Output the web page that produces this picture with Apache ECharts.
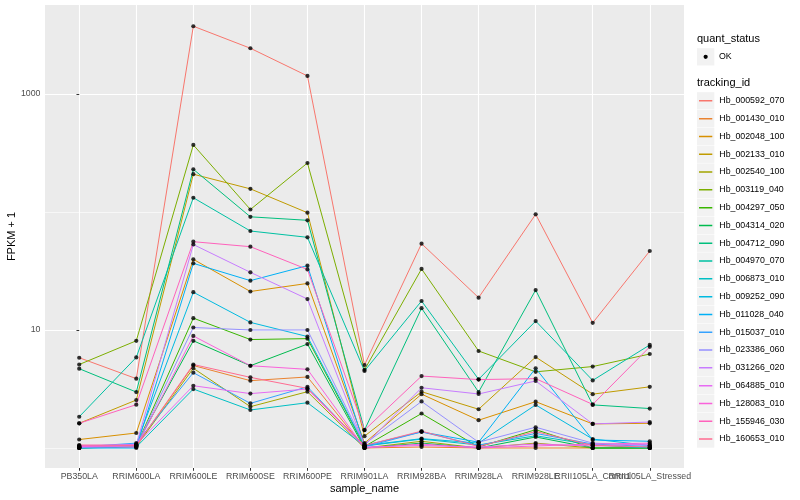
<!DOCTYPE html>
<html><head><meta charset="utf-8">
<script src="https://cdn.jsdelivr.net/npm/echarts@6/dist/echarts.min.js"></script>
<style>html,body{margin:0;padding:0;background:#fff}#c{width:800px;height:500px}</style>
</head><body><div id="c"></div>
<script>
const categories = ['PB350LA','RRIM600LA','RRIM600LE','RRIM600SE','RRIM600PE','RRIM901LA','RRIM928BA','RRIM928LA','RRIM928LE','RRII105LA_Control','RRII105LA_Stressed'];
const trackingIds = ['Hb_000592_070','Hb_001430_010','Hb_002048_100','Hb_002133_010','Hb_002540_100','Hb_003119_040','Hb_004297_050','Hb_004314_020','Hb_004712_090','Hb_004970_070','Hb_006873_010','Hb_009252_090','Hb_011028_040','Hb_015037_010','Hb_023386_060','Hb_031266_020','Hb_064885_010','Hb_128083_010','Hb_155946_030','Hb_160653_010'];
const palette = ['#F8766D','#EA8331','#D89000','#C09B00','#A3A500','#7CAE00','#39B600','#00BB4E','#00BF7D','#00C1A3','#00BFC4','#00BAE0','#00B0F6','#35A2FF','#9590FF','#C77CFF','#E76BF3','#FA62DB','#FF62BC','#FF6C91'];

// FPKM + 1 per sample (order of categories)
const hb000592_070 = [5.82, 3.87, 3750, 2440, 1422, 5.05, 53.9, 18.8, 95.6, 11.5, 46.7];
const hb001430_010 = [1.02, 1.05, 5.0, 3.72, 4.0, 1.0, 1.02, 1.0, 1.0, 1.0, 1.0];
const hb002048_100 = [1.18, 1.34, 39.7, 21.2, 24.8, 1.1, 2.86, 1.72, 2.47, 1.6, 1.62];
const hb002133_010 = [1.62, 2.55, 209, 157, 98.6, 1.26, 3.0, 2.13, 5.9, 2.86, 3.3];
const hb002540_100 = [1.0, 1.03, 4.74, 2.24, 3.0, 1.0, 1.14, 1.0, 1.1, 1.0, 1.0];
const hb003119_040 = [5.1, 8.1, 370, 105, 260, 4.6, 32.9, 6.64, 4.42, 4.9, 6.26];
const hb004297_050 = [1.0, 1.04, 12.6, 8.3, 8.45, 1.03, 1.96, 1.02, 1.43, 1.0, 1.0];
const hb004314_020 = [1.03, 1.06, 8.1, 4.98, 7.6, 1.0, 1.1, 1.0, 1.24, 1.0, 1.0];
const hb004712_090 = [4.7, 2.98, 230, 91, 85, 1.42, 15.3, 2.98, 21.8, 2.32, 2.16];
const hb004970_070 = [1.84, 5.86, 132, 69, 61, 4.5, 17.6, 3.82, 11.9, 3.74, 7.47];
const hb006873_010 = [1.0, 1.02, 3.16, 2.1, 2.42, 1.04, 1.19, 1.06, 1.27, 1.06, 1.0];
const hb009252_090 = [1.01, 1.08, 20.9, 11.6, 8.8, 1.05, 1.2, 1.1, 2.32, 1.19, 1.05];
const hb011028_040 = [1.0, 1.0, 36.7, 26.2, 35.1, 1.05, 1.37, 1.12, 4.74, 1.17, 1.14];
const hb015037_010 = [1.02, 1.1, 4.35, 2.39, 3.3, 1.02, 1.37, 1.05, 1.33, 1.08, 1.03];
const hb023386_060 = [1.01, 1.04, 10.5, 10.0, 10.0, 1.08, 2.48, 1.12, 1.5, 1.1, 1.05];
const hb031266_020 = [1.04, 1.06, 53, 30.8, 18.3, 1.05, 3.24, 2.87, 3.7, 1.6, 1.66];
const hb064885_010 = [1.05, 1.07, 3.37, 2.89, 3.16, 1.02, 1.05, 1.02, 1.08, 1.04, 1.08];
const hb128083_010 = [1.03, 1.02, 8.9, 4.98, 4.64, 1.0, 1.08, 1.0, 1.04, 1.08, 1.1];
const hb155946_030 = [1.62, 2.33, 56, 50.8, 32.6, 1.42, 4.07, 3.8, 3.87, 2.34, 7.2];
const hb160653_010 = [1.06, 1.05, 5.1, 3.97, 3.2, 1.05, 1.39, 1.03, 1.38, 1.05, 1.02];

const yMajorTicks = [10, 1000];
const yMinorTicks = [1, 100];
const qualityLabel = 'OK';

const rows = [hb000592_070, hb001430_010, hb002048_100, hb002133_010, hb002540_100, hb003119_040, hb004297_050, hb004314_020, hb004712_090, hb004970_070, hb006873_010, hb009252_090, hb011028_040, hb015037_010, hb023386_060, hb031266_020, hb064885_010, hb128083_010, hb155946_030, hb160653_010];

const FONT = '"Liberation Sans", Arial, Helvetica, sans-serif';
const catIdx = categories.map((c, i) => i);
// labels split over two axes so that overlapping neighbours are both drawn
const labelsA = catIdx.filter(i => i % 2 === 0);
const labelsB = catIdx.filter(i => i % 2 === 1);

const series = trackingIds.map((id, i) => ({
  name: id, type: 'line', symbol: 'none', z: 2,
  data: rows[i].map((v, j) => [j, v]),
  lineStyle: { width: 1, color: palette[i] },
  itemStyle: { color: palette[i] },
  silent: true
}));
const allPts = [];
rows.forEach(r => r.forEach((v, j) => allPts.push([j, v])));
series.push({ name: qualityLabel, type: 'scatter', data: allPts, symbolSize: 4.2, itemStyle: { color: '#000' }, z: 5, silent: true });

const keyTop = 92.2, keyStep = 17.8, keyX = 697, keySize = 17.3;
const graphics = [
  { type: 'text', left: keyX, top: 33.5, style: { text: 'quant_status', font: '11px ' + FONT, fill: '#000' } },
  { type: 'rect', shape: { x: keyX, y: 48.2, width: keySize, height: keySize }, style: { fill: '#F2F2F2' } },
  { type: 'circle', shape: { cx: keyX + keySize / 2, cy: 48.2 + keySize / 2, r: 2.1 }, style: { fill: '#000' } },
  { type: 'text', x: 719, y: 56.9, style: { text: qualityLabel, font: '8.8px ' + FONT, fill: '#000', verticalAlign: 'middle' } },
  { type: 'text', left: keyX, top: 77.5, style: { text: 'tracking_id', font: '11px ' + FONT, fill: '#000' } }
];
trackingIds.forEach((id, i) => {
  graphics.push({ type: 'rect', z: -1, shape: { x: keyX, y: keyTop + i * keyStep, width: keySize, height: keySize }, style: { fill: '#F2F2F2' } });
});

const yCommon = { type: 'log', min: 0.677, max: 5675, axisLine: { show: false } };
const lineIcon = 'path://M0,0h0.01v0.01h-0.01z M2,7.9h13.3v1.5h-13.3z M17.29,17.29h0.01v0.01h-0.01z';
const labelStyle = { formatter: v => categories[Math.round(v)] || '', fontSize: 8.8, color: '#4D4D4D', margin: 4.5, fontFamily: FONT, hideOverlap: false, showMinLabel: true, showMaxLabel: true };

const option = {
  animation: false,
  backgroundColor: '#fff',
  textStyle: { fontFamily: FONT },
  grid: { left: 45, right: 116, top: 5, bottom: 32, show: true, backgroundColor: '#EBEBEB', borderWidth: 0, containLabel: false, outerBoundsMode: 'none' },
  xAxis: [
    {
      type: 'value', min: -0.6, max: 10.6, position: 'bottom',
      name: 'sample_name', nameLocation: 'middle', nameGap: 15, nameMoveOverlap: false,
      nameTextStyle: { fontSize: 11, color: '#000', fontFamily: FONT },
      axisLine: { show: false },
      axisTick: { show: true, customValues: catIdx, length: 2.75, lineStyle: { color: '#333', width: 1 } },
      axisLabel: Object.assign({ customValues: labelsA }, labelStyle),
      splitLine: { show: true, lineStyle: { color: '#fff', width: 1.1 } }
    },
    {
      type: 'value', min: -0.6, max: 10.6, position: 'bottom', offset: 0,
      axisLine: { show: false },
      axisTick: { show: false, customValues: labelsB },
      axisLabel: Object.assign({ customValues: labelsB }, labelStyle),
      splitLine: { show: false }
    }
  ],
  yAxis: [
    Object.assign({}, yCommon, {
      name: 'FPKM + 1', nameLocation: 'middle', nameGap: 28, nameMoveOverlap: false,
      nameTextStyle: { fontSize: 11, color: '#000', fontFamily: FONT },
      axisTick: { show: true, customValues: yMajorTicks, length: 2.75, lineStyle: { color: '#333', width: 1 } },
      axisLabel: { customValues: yMajorTicks, formatter: v => String(Math.round(v)), fontSize: 8.8, color: '#4D4D4D', margin: 4.5, fontFamily: FONT, showMinLabel: true, showMaxLabel: true },
      splitLine: { show: true, lineStyle: { color: '#fff', width: 1.1 } }
    }),
    Object.assign({}, yCommon, {
      position: 'left',
      axisTick: { show: false, customValues: yMinorTicks },
      axisLabel: { show: false, customValues: yMinorTicks },
      splitLine: { show: true, lineStyle: { color: '#fff', width: 0.6 } }
    })
  ],
  legend: {
    orient: 'vertical', left: keyX, top: keyTop, padding: 0,
    itemWidth: keySize, itemHeight: keySize, itemGap: keyStep - keySize,
    selectedMode: false, icon: lineIcon,
    data: trackingIds.map((id, i) => ({ name: id, icon: lineIcon, itemStyle: { color: palette[i], borderWidth: 0 } })),
    textStyle: { fontSize: 8.8, color: '#000', fontFamily: FONT }
  },
  graphic: graphics,
  series: series
};
echarts.init(document.getElementById('c'), null, { renderer: 'canvas' }).setOption(option);
</script></body></html>
